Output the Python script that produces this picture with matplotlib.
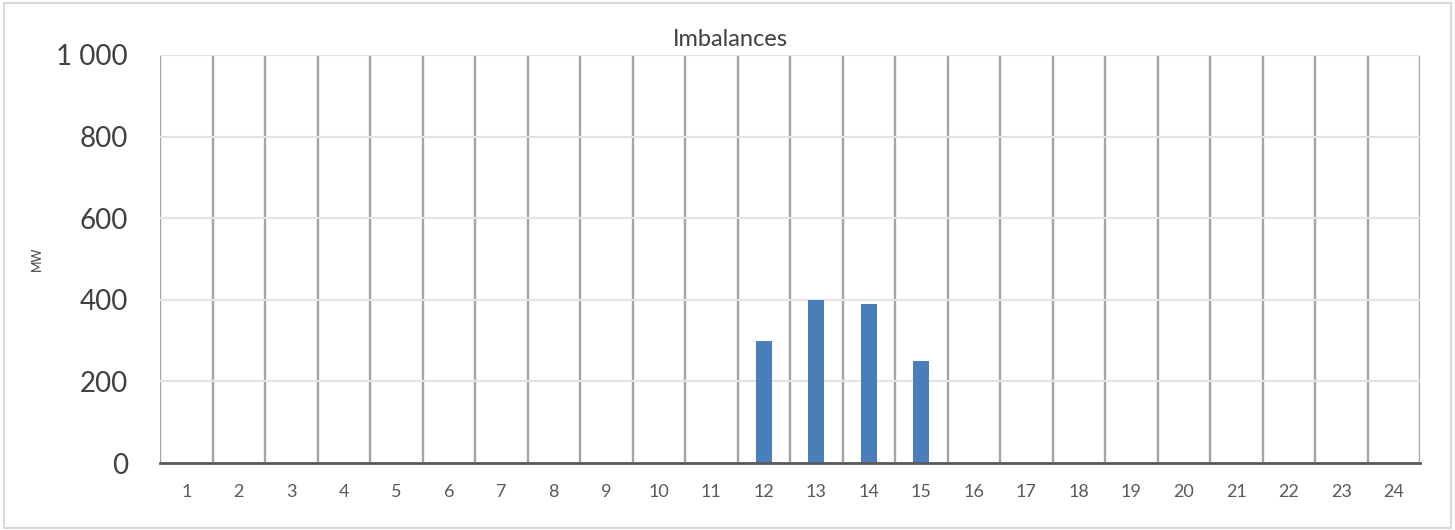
import matplotlib.pyplot as plt
import numpy as np
from matplotlib.ticker import FuncFormatter, MultipleLocator

hours = list(range(1, 25))
imbalance_mw = [0, 0, 0, 0, 0, 0, 0, 0, 0, 0, 0, 300, 400, 390, 250,
                0, 0, 0, 0, 0, 0, 0, 0, 0]
y_ticks = [0, 200, 400, 600, 800, 1000]

plt.rcParams['font.family'] = ['Lato', 'DejaVu Sans']

fig = plt.figure(figsize=(14.55, 5.30), dpi=100)
ax = fig.add_axes([160 / 1455, 67 / 530, 1260 / 1455, 408 / 530])

# grey frame around the whole chart
fig.patches.append(plt.Rectangle((0.003, 0.004), 0.994, 0.99, transform=fig.transFigure,
                                 fill=False, edgecolor='#d9d9d9', linewidth=1.5))

ax.bar(hours, imbalance_mw, width=0.3, color='#4a7ebb', zorder=3)

ax.set_xlim(0.5, 24.5)
ax.set_ylim(0, 1000)
ax.set_xticks(hours)
ax.set_xticklabels([str(h) for h in hours])
ax.set_yticks(y_ticks)
ax.yaxis.set_major_formatter(FuncFormatter(lambda v, p: f"{int(v):,}".replace(",", " ")))

# vertical lines at category boundaries
ax.xaxis.set_minor_locator(MultipleLocator(1, offset=0.5))
ax.grid(which='minor', axis='x', color='#a3a3a3', linewidth=1.7, zorder=1)
ax.grid(which='major', axis='y', color='#e3e3e3', linewidth=1.5, zorder=1)
ax.tick_params(which='both', length=0)
ax.tick_params(axis='y', labelsize=20, labelcolor='#404040', pad=23)
ax.tick_params(axis='x', labelsize=13, labelcolor='#595959', pad=15)

for s in ['top', 'right', 'left']:
    ax.spines[s].set_visible(False)
ax.spines['bottom'].set_color('#595959')
ax.spines['bottom'].set_linewidth(2)
ax.spines['bottom'].set_zorder(4)

ax.set_ylabel('MW', fontsize=9, color='#404040', labelpad=10)
fig.text(0.502, 0.925, 'Imbalances', ha='center', va='center', fontsize=17, color='#404040')

fig.savefig('out.png', dpi=100)
